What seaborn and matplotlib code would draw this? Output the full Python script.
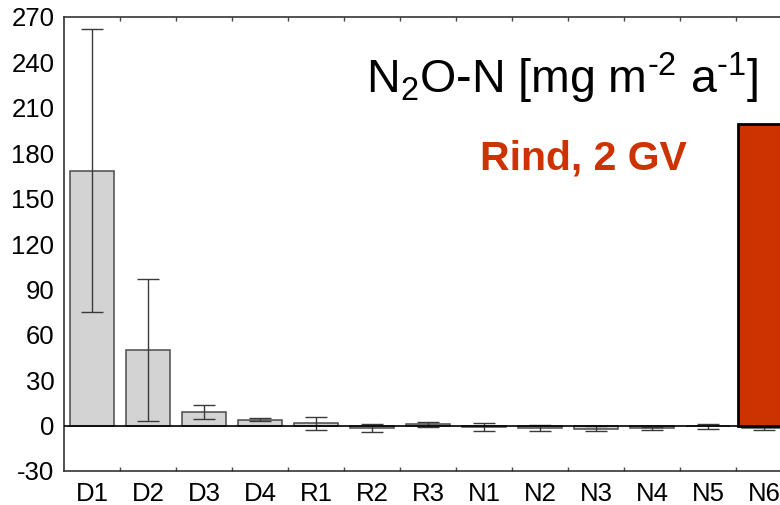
import numpy as np
import pandas as pd
import matplotlib
matplotlib.use("Agg")
import matplotlib.pyplot as plt
import seaborn as sns
from matplotlib.ticker import FixedLocator

# N2O-N fluxes per site (mean and error)
sites = ["D1", "D2", "D3", "D4", "R1", "R2", "R3", "N1", "N2", "N3", "N4", "N5", "N6"]
means = [168.5, 50.0, 9.0, 4.0, 1.5, -1.5, 1.0, -1.0, -1.3, -2.0, -1.8, -0.5, -1.5]
errors = [93.7, 47.0, 4.9, 1.0, 4.4, 2.6, 1.7, 2.5, 2.0, 1.8, 0.9, 1.6, 1.2]

# highlighted reference value
highlight_site = ["N6"]
highlight_value = [199.0]

y_ticks = [-30, 0, 30, 60, 90, 120, 150, 180, 210, 240, 270]

sns.set_theme(style="white")
plt.rcParams["font.family"] = ["Liberation Sans", "DejaVu Sans"]
plt.rcParams["mathtext.fontset"] = "custom"
plt.rcParams["mathtext.rm"] = "Liberation Sans"
plt.rcParams["mathtext.default"] = "regular"

df = pd.DataFrame({"site": sites, "flux": means, "err": errors})
hl = pd.DataFrame({"site": highlight_site, "flux": highlight_value})

fig = plt.figure(figsize=(7.8, 5.05), dpi=100)
ax = fig.add_axes([64 / 780, 34 / 505, 728 / 780, 454 / 505])

sns.barplot(data=df, x="site", y="flux", order=sites, color="#d3d3d3",
            saturation=1, width=0.8, errorbar=None, edgecolor="#4a4a4a",
            linewidth=1.1, ax=ax, zorder=2)

# error bars at the categorical positions
pos = np.arange(len(sites))
ax.errorbar(pos, df["flux"], yerr=df["err"], fmt="none", ecolor="#3a3a3a",
            elinewidth=1.0, capsize=8, capthick=1.0, zorder=3)

ax.axhline(0, color="black", lw=1.2, zorder=4)

sns.barplot(data=hl, x="site", y="flux", order=sites, color="#cc3300",
            saturation=1, width=0.92, errorbar=None, edgecolor="black",
            linewidth=2, ax=ax, zorder=5)

ax.set_xlim(-0.5, len(sites) - 0.5)
ax.set_ylim(-30, 270)
ax.set_yticks(y_ticks)
ax.set_yticklabels([str(v) for v in y_ticks])
ax.set_xlabel("")
ax.set_ylabel("")

ax.xaxis.set_minor_locator(FixedLocator(np.arange(len(sites)) + 0.5))
ax.tick_params(axis="x", which="major", length=0, pad=8, labelsize=18.5,
               colors="black")
ax.tick_params(axis="x", which="minor", direction="in", length=3, width=1,
               top=True, bottom=True, color="#444444")
ax.tick_params(axis="y", which="major", length=0, pad=7, labelsize=18.5,
               colors="black")

for name in ["left", "top", "bottom"]:
    ax.spines[name].set_color("#333333")
    ax.spines[name].set_linewidth(1.2)
ax.spines["right"].set_visible(False)

fig.text(758 / 780, (505 - 93) / 505,
         r"N$_2$O-N [mg m$^{\text{-2}}$ a$^{\text{-1}}$]",
         ha="right", va="baseline", fontsize=33.5, color="black")
fig.text(687 / 780, (505 - 169) / 505, "Rind, 2 GV", ha="right", va="baseline",
         fontsize=29.5, fontweight="bold", color="#cc3300")

fig.savefig("out.png", dpi=100)
